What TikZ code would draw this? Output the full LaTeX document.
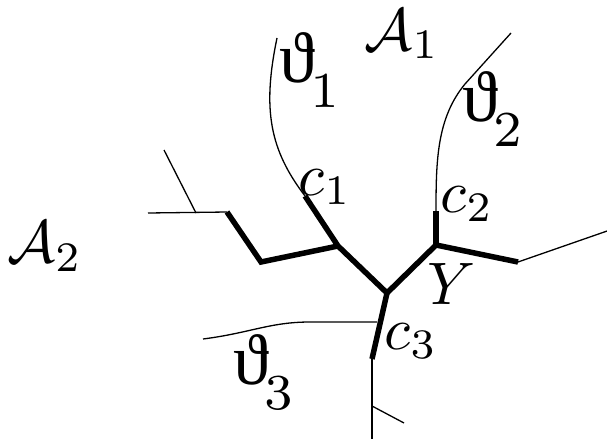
\documentclass[tikz,border=0pt]{standalone}
\usepackage{fontspec}
\newfontfamily\thetafont{Liberation Serif}
\newcommand{\myvt}[1]{{\thetafont ϑ}\kern-0.6pt\raisebox{-2pt}{$_{#1}$}}
\begin{document}
\begin{tikzpicture}[x=1pt,y=-1pt,
  thinline/.style={line width=1.3pt},
  thickline/.style={line width=5.5pt,line join=miter},
  lbl/.style={inner sep=0pt,scale=6},
  vtlbl/.style={inner sep=0pt,scale=7.2}]
\useasboundingbox (0,0) rectangle (607,439);
% vertices
\coordinate (L0) at (148,213);
\coordinate (Lb) at (196,213);
\coordinate (Lt) at (164,150);
\coordinate (P1) at (227,212);
\coordinate (P2) at (261,262);
\coordinate (J1) at (338,246);
\coordinate (C1) at (305,196);
\coordinate (J0) at (387,293);
\coordinate (J2) at (436,245);
\coordinate (C2) at (436,211);
\coordinate (R1) at (518,262);
\coordinate (R2) at (610,230);
\coordinate (C3) at (372,359);
\coordinate (Bb) at (372,406);
\coordinate (Bt) at (404,423);
\coordinate (B0) at (372,439);
\coordinate (T1) at (277,38);
\coordinate (T2) at (511,33);
\coordinate (T3a) at (203,339);
\coordinate (T3b) at (377,322);
% thin lines
\draw[thinline] (L0) -- (P1);
\draw[thinline] (Lb) -- (Lt);
\draw[thinline] (R1) -- (R2);
\draw[thinline] (C3) -- (B0);
\draw[thinline] (Bb) -- (Bt);
\draw[thinline] (T1) .. controls (262,110) and (270,150) .. (C1);
\draw[thinline] (T2) -- (465,84) .. controls (437,118) and (436,160) .. (C2);
\draw[thinline] (T3a) .. controls (250,333) and (270,322) .. (310,322) -- (T3b);
% thick lines
\draw[thickline] (P1) -- (P2) -- (J1);
\draw[thickline] (C1) -- (J1) -- (J0) -- (J2) -- (R1);
\draw[thickline] (J2) -- (C2);
\draw[thickline] (J0) -- (C3);
% labels
\node[lbl] (a1) at (402,34) {$\mathcal{A}_1$};
\node[lbl] (a2) at (45,246) {$\mathcal{A}_2$};
\node[vtlbl] (t1) at (311,70) {\myvt{1}};
\node[vtlbl] (t2) at (494,109) {\myvt{2}};
\node[vtlbl] (t3) at (265,372) {\myvt{3}};
\node[lbl] (c1) at (325,187) {$c_1$};
\node[lbl] (c2) at (467,204) {$c_2$};
\node[lbl] (c3) at (411,341) {$c_3$};
\node[lbl] (y) at (452,284) {$Y$};
\end{tikzpicture}
\end{document}
